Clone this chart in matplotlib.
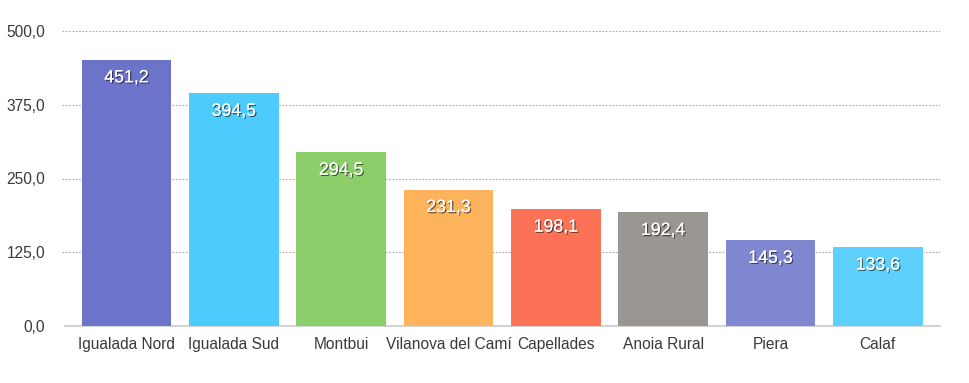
import matplotlib
matplotlib.use("Agg")
import matplotlib.pyplot as plt
import matplotlib.patheffects as pe

categories = ["Igualada Nord", "Igualada Sud", "Montbui", "Vilanova del Camí",
              "Capellades", "Anoia Rural", "Piera", "Calaf"]
values = [451.2, 394.5, 294.5, 231.3, 198.1, 192.4, 145.3, 133.6]
colors = ["#6b74c9", "#4dcbfd", "#8ccf6a", "#fdb25c", "#fc7256", "#9a9691", "#7f87d0", "#5dd0fb"]
yticks = [0, 125, 250, 375, 500]

plt.rcParams['font.family'] = ['Liberation Sans', 'DejaVu Sans']

fig = plt.figure(figsize=(9.7, 3.83), dpi=100)
ax = fig.add_axes([62/970, 1-326/383, (940-62)/970, (326-31)/383])

x = list(range(len(categories)))
bars = ax.bar(x, values, width=0.835, color=colors, zorder=3)

for xi, v in zip(x, values):
    t = ax.annotate(f"{v:.1f}".replace(".", ","), xy=(xi, v), xytext=(0, -18),
                    textcoords="offset pixels", ha="center", va="center",
                    color="white", fontsize=12.8, zorder=4)
    t.set_path_effects([pe.withSimplePatchShadow(offset=(0.9, -0.9), shadow_rgbFace="black", alpha=0.55),
                        pe.Normal()])

ax.set_xlim(-0.60, 7.58)
ax.set_ylim(0, 500)
ax.set_yticks(yticks)
ax.set_yticklabels([f"{t:.1f}".replace(".", ",") for t in yticks])
ax.set_xticks(x)
ax.set_xticklabels(categories)
ax.tick_params(axis="both", length=0, labelsize=11.2, colors="#3a3a3a")
ax.tick_params(axis="y", pad=12)
ax.tick_params(axis="x", pad=8)

for t in yticks[1:]:
    ax.axhline(t, color="#aaaaaa", linestyle=(0, (1.5, 1.5)), linewidth=0.8, zorder=1)

for s in ["top", "right", "left"]:
    ax.spines[s].set_visible(False)
ax.spines["bottom"].set_color("#d4d4d4")
ax.spines["bottom"].set_linewidth(1.5)
ax.spines["bottom"].set_bounds(-0.57, 7.58)

fig.savefig("out.png", dpi=100)
